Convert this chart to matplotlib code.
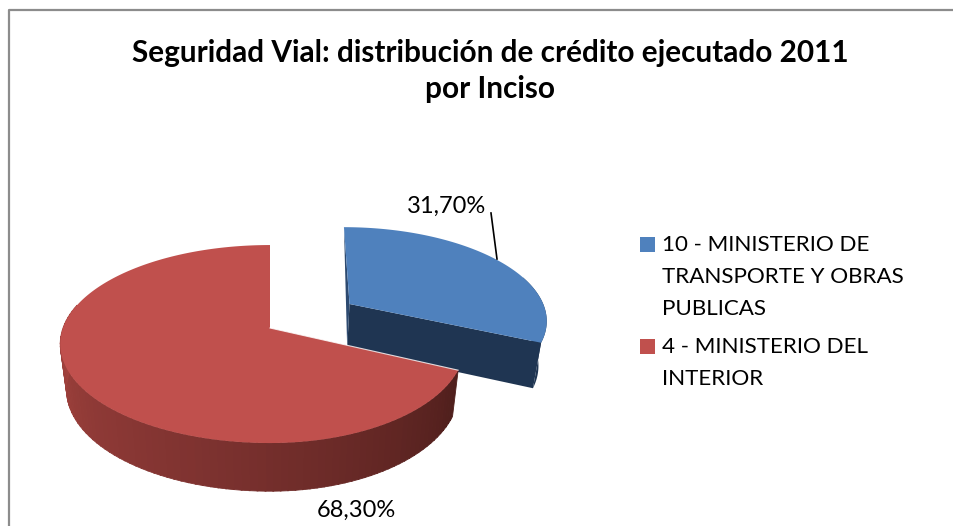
import numpy as np
import matplotlib
matplotlib.use("Agg")
import matplotlib.pyplot as plt
from matplotlib.patches import Rectangle

plt.rcParams['font.family'] = ['Lato', 'DejaVu Sans']

title = "Seguridad Vial: distribución de crédito ejecutado 2011\npor Inciso"
categories = ["10 - MINISTERIO DE\nTRANSPORTE Y OBRAS\nPUBLICAS", "4 - MINISTERIO DEL\nINTERIOR"]
values = [31.70, 68.30]
value_labels = ["31,70%", "68,30%"]
top_colors = ["#4F81BD", "#C0504D"]

W, H = 954, 526
CX, CY = 270, 328   # where the red apex lands
BX, BY = 207, 96.4  # disc size
PERSP = 0.162
DEPTH = 45
EXPLODE = 0.477


def project(u, v, z=0.0):
    '''Unit disc (u right, v away) to pixels, z is 0 on top and 1 on the bottom'''
    f = 1 + PERSP * v
    shrink = 1 - 0.03 * z
    x = CX + BX * u / f * shrink
    y = CY - BY * v / f + z * DEPTH * (1 - 0.07 * v)
    return x, y


def project_red(u, v, z=0.0):
    # right side of the red disc is a bit narrower in the picture
    x, y = project(u, v, z)
    return np.where(x > CX, CX + (x - CX) * 0.93, x), y


def project_blue(u, v, z=0.0):
    # slight lean and squeeze about the pulled out apex
    x, y = project(u, v, z)
    y_top = project(u, v)[1]
    ax0, ay0 = project(ou, ov)
    return ax0 + (x - ax0 - 0.065 * (y_top - ay0)) * 0.975, y


def arc(a0, a1, n=160):
    t = np.radians(np.linspace(a0, a1, n))
    return np.sin(t), np.cos(t)


fig = plt.figure(figsize=(W / 100, H / 100), dpi=100)
ax = fig.add_axes([0, 0, 1, 1])
ax.set_xlim(0, W)
ax.set_ylim(H, 0)
ax.axis('off')

# chart border, only left and top fall inside the picture
ax.plot([9.5, 9.5, W], [H, 9.5, 9.5], color='#8C8C8C', lw=1.6)

# angles are clockwise from 12 o'clock, the first slice starts there
split = values[0] / sum(values) * 360

# ---- blue slice, pulled out along its middle
mid = np.radians(split / 2)
ou, ov = EXPLODE * np.sin(mid), EXPLODE * np.cos(mid)
u, v = arc(0, split)
u = u + ou
v = v + ov

# cut face and outer wall
fx = [project_blue(ou, ov)[0], project_blue(u[-1], v[-1])[0], project_blue(u[-1], v[-1], 1)[0], project_blue(ou, ov, 1)[0]]
fy = [project_blue(ou, ov)[1], project_blue(u[-1], v[-1])[1], project_blue(u[-1], v[-1], 1)[1], project_blue(ou, ov, 1)[1]]
ax.fill(fx, fy, color='#1F3552', lw=0)
wx_top, wy_top = project_blue(u[100:], v[100:])
wx_bot, wy_bot = project_blue(u[100:], v[100:], 1)
ax.fill(np.r_[wx_top, wx_bot[::-1]], np.r_[wy_top, wy_bot[::-1]], color='#1F3552', lw=0)
# thin sliver on the left side
lx = [project_blue(ou, ov + 1)[0], project_blue(ou, ov)[0], project_blue(ou, ov, 1)[0]]
ly = [project_blue(ou, ov + 1)[1], project_blue(ou, ov)[1], project_blue(ou, ov, 1)[1]]
ax.fill(lx, ly, color='#2D4A70', lw=0)

tx, ty = project_blue(np.r_[ou, u], np.r_[ov, v])
ax.fill(tx, ty, color=top_colors[0], lw=0)

# ---- red slice
u, v = arc(split, 360, 400)
# wall from the end of the cut round to the left extreme, dark to lighter
a = np.linspace(split, 284, 90)
side0 = np.array([0.31, 0.12, 0.11])
side1 = np.array([0.50, 0.20, 0.19])
side2 = np.array([0.66, 0.27, 0.25])
for i in range(len(a) - 1):
    s = i / (len(a) - 2)
    if s < 0.5:
        col = side0 + (side1 - side0) * s * 2
    else:
        col = side1 + (side2 - side1) * (s - 0.5) * 2
    su, sv = arc(a[i], a[i + 1] + 0.3, 6)
    x0, y0 = project_red(su, sv)
    x1, y1 = project_red(su, sv, 1)
    ax.fill(np.r_[x0, x1[::-1]], np.r_[y0, y1[::-1]], facecolor=col, edgecolor=col, lw=0.6)

tx, ty = project_red(np.r_[0, u], np.r_[0, v])
ax.fill(tx, ty, color=top_colors[1], lw=0)
# light edge where the red cut meets the blue wall
ex, ey = project_red(np.array([0, u[0]]), np.array([0, v[0]]))
ax.plot(ex, ey, color='white', lw=0.8, alpha=0.8)

# ---- text
ax.text(490, 71, title, ha='center', va='center', fontsize=21.4, fontweight='bold',
        linespacing=1.35, color='black')
ax.plot([491, 497], [213, 259], color='black', lw=1.2)
ax.text(447, 206, value_labels[0], ha='center', va='center', fontsize=17, color='black')
ax.text(356, 510, value_labels[1], ha='center', va='center', fontsize=17, color='black')

# ---- legend
for cat, col, ytop in zip(categories, top_colors, [237, 339]):
    ax.add_patch(Rectangle((640, ytop), 15, 15, color=col, lw=0))
    ax.text(662, ytop - 2, cat, ha='left', va='top', fontsize=16.1, color='black', linespacing=1.76)

fig.savefig("out.png", dpi=100)
